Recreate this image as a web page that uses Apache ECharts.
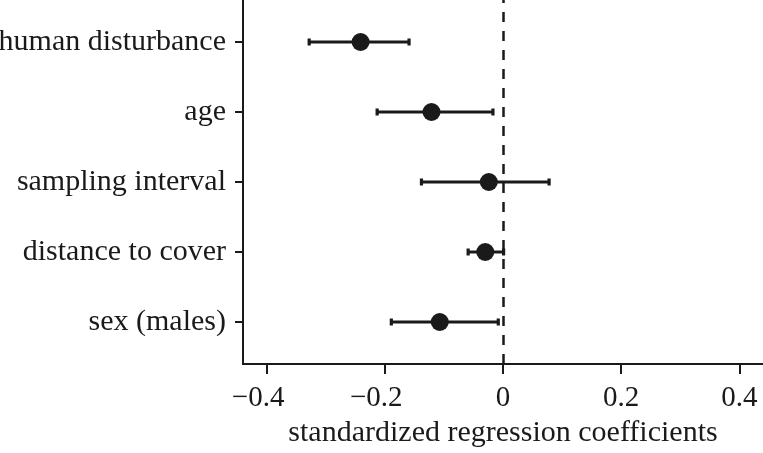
<!DOCTYPE html>
<html>
<head>
<meta charset="utf-8">
<script src="https://cdn.jsdelivr.net/npm/echarts@6/dist/echarts.min.js"></script>
<style>
  html, body { margin: 0; padding: 0; background: #fff; }
  #chart { width: 763px; height: 453px; }
</style>
</head>
<body>
<div id="chart"></div>
<script>
// predictors, top to bottom
const categories = ['human disturbance', 'age', 'sampling interval', 'distance to cover', 'sex (males)']
const estimates = [-0.241, -0.121, -0.024, -0.030, -0.107]
const lower = [-0.328, -0.213, -0.138, -0.059, -0.189]
const upper = [-0.159, -0.017, 0.078, 0.001, -0.008]
const xTicks = [-0.4, -0.2, 0, 0.2, 0.4]

const ink = '#1a1a1a'
const font = 'Liberation Serif'

// y position of each row: top row is 5, bottom row is 1
const rowPos = categories.map((c, i) => categories.length - i)

const chart = echarts.init(document.getElementById('chart'))

chart.setOption({
  animation: false,
  grid: { left: 243, right: 0, top: 0, bottom: 89, containLabel: false, outerBoundsMode: 'none' },
  xAxis: {
    type: 'value',
    min: -0.44,
    max: 0.44,
    name: 'standardized regression coefficients',
    nameLocation: 'middle',
    nameGap: 49,
    nameTextStyle: { color: ink, fontFamily: font, fontSize: 30 },
    axisLine: { show: true, onZero: false, lineStyle: { color: ink, width: 2 } },
    axisTick: { show: true, customValues: xTicks, length: 10, lineStyle: { color: ink, width: 2 } },
    axisLabel: {
      customValues: xTicks,
      margin: 20,
      color: ink,
      fontFamily: font,
      fontSize: 29,
      formatter: (v) => {
        if (v < 0) return '{n|−' + Math.abs(v).toFixed(1) + '}'
        return v === 0 ? '0' : v.toFixed(1)
      },
      rich: {
        n: { fontFamily: font, fontSize: 29, color: ink, padding: [0, 17, 0, 0] },
      },
    },
    splitLine: { show: false },
  },
  yAxis: {
    type: 'value',
    min: 0.4,
    max: 5.6,
    axisLine: { show: true, onZero: false, lineStyle: { color: ink, width: 2 } },
    axisTick: { show: true, customValues: rowPos, length: 8, lineStyle: { color: ink, width: 2 } },
    axisLabel: {
      customValues: rowPos,
      margin: 17,
      color: ink,
      fontFamily: font,
      fontSize: 30,
      formatter: (v) => categories[categories.length - Math.round(v)] || '',
    },
    splitLine: { show: false },
  },
  series: [
    {
      // error bars with end caps
      type: 'custom',
      data: categories.map((c, i) => [lower[i], upper[i], rowPos[i]]),
      renderItem: (params, api) => {
        const a = api.coord([api.value(0), api.value(2)])
        const b = api.coord([api.value(1), api.value(2)])
        const cap = 3.5
        const style = { stroke: ink, lineWidth: 3.2 }
        return {
          type: 'group',
          children: [
            { type: 'line', shape: { x1: a[0], y1: a[1], x2: b[0], y2: b[1] }, style },
            { type: 'line', shape: { x1: a[0], y1: a[1] - cap, x2: a[0], y2: a[1] + cap }, style },
            { type: 'line', shape: { x1: b[0], y1: b[1] - cap, x2: b[0], y2: b[1] + cap }, style },
          ],
        }
      },
      z: 2,
    },
    {
      type: 'scatter',
      data: categories.map((c, i) => [estimates[i], rowPos[i]]),
      symbol: 'circle',
      symbolSize: 18,
      itemStyle: { color: ink, opacity: 1 },
      z: 3,
      markLine: {
        silent: true,
        symbol: 'none',
        label: { show: false },
        lineStyle: { color: ink, width: 2.5, type: [10, 9] },
        data: [{ xAxis: 0 }],
      },
    },
  ],
})
</script>
</body>
</html>
